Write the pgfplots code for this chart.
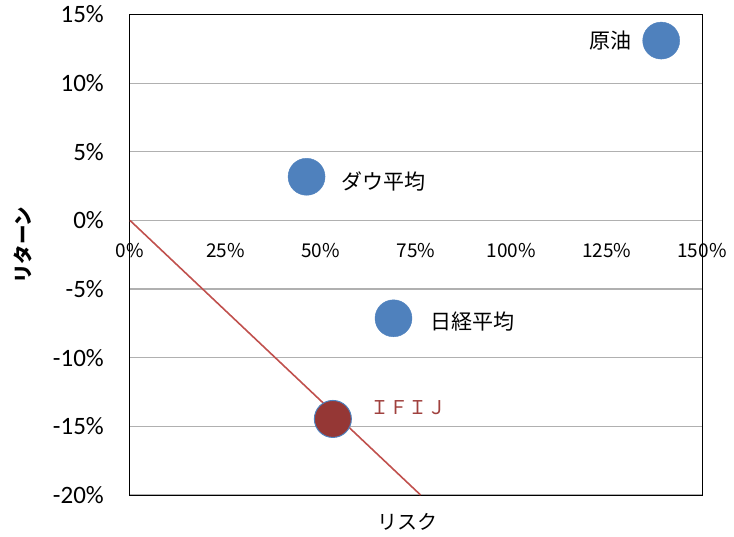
\documentclass[border=0pt]{standalone}
\usepackage{pgfplots}
\pgfplotsset{compat=1.18}
\usepackage{fontspec}
\setmainfont{Noto Sans CJK JP}
\newfontfamily\calfont{Carlito}
\definecolor{ptblue}{HTML}{4F81BD}
\definecolor{ptred}{HTML}{953735}
\definecolor{lnred}{HTML}{C0504D}
\definecolor{lblred}{HTML}{A0413E}
\definecolor{gridgray}{HTML}{B0B0B0}

\begin{document}
\begin{tikzpicture}
\useasboundingbox (-130pt,-41pt) rectangle (604pt,495pt);
\begin{axis}[
  at={(0,0)}, anchor=south west,
  scale only axis, width=572pt, height=480.5pt,
  xmin=0, xmax=150, ymin=-20, ymax=15,
  xtick={0,25,...,150}, ytick={-20,-15,...,15},
  major tick length=0pt,
  ymajorgrids, grid style={gridgray, line width=1.2pt},
  axis line style={black, line width=1pt},
  xticklabel={\pgfmathparse{int(\tick)}\pgfmathresult\%},
  yticklabel={\calfont\pgfmathparse{int(\tick)}\pgfmathresult\%},
  xticklabel style={anchor=center, inner sep=0pt, yshift=244.6pt,
    font=\fontsize{19pt}{24pt}\selectfont},
  yticklabel style={anchor=east, inner sep=0pt, xshift=-26pt,
    font=\fontsize{25pt}{28pt}\selectfont},
  ylabel={リターン},
  ylabel style={at={(axis description cs:-0.187,0.52)}, anchor=center,
    font=\bfseries\fontsize{19.5pt}{22pt}\selectfont},
  xlabel={リスク},
  xlabel style={at={(axis description cs:0.486,-0.0556)}, anchor=center,
    font=\fontsize{20pt}{22pt}\selectfont},
  clip=false,
]
% 原油
\addplot[only marks, mark=*, mark size=18.5pt, mark options={fill=ptblue, draw=ptblue},
  nodes near coords={原油},
  every node near coord/.append style={anchor=east, inner sep=0pt, xshift=-29pt,
    text=black, font=\fontsize{21pt}{24pt}\selectfont}]
  coordinates {(139.3,13.1)};
% ダウ平均
\addplot[only marks, mark=*, mark size=18.5pt, mark options={fill=ptblue, draw=ptblue},
  nodes near coords={ダウ平均},
  every node near coord/.append style={anchor=west, inner sep=0pt, xshift=35pt, yshift=-5pt,
    text=black, font=\fontsize{21pt}{24pt}\selectfont}]
  coordinates {(46.3,3.18)};
% 日経平均
\addplot[only marks, mark=*, mark size=18.5pt, mark options={fill=ptblue, draw=ptblue},
  nodes near coords={日経平均},
  every node near coord/.append style={anchor=west, inner sep=0pt, xshift=37pt, yshift=-3pt,
    text=black, font=\fontsize{21pt}{24pt}\selectfont}]
  coordinates {(69.1,-7.13)};
% IFIJ
\addplot[only marks, mark=*, mark size=18.5pt, mark options={fill=ptred, draw=ptblue, line width=1pt},
  nodes near coords={ＩＦＩＪ},
  every node near coord/.append style={anchor=west, inner sep=0pt, xshift=37pt, yshift=11pt,
    text=lblred, font=\fontsize{19pt}{24pt}\selectfont}]
  coordinates {(53.2,-14.46)};
% line
\addplot[lnred, line width=1.6pt, no marks] coordinates {(0,0) (76.2,-20)};
\end{axis}
\end{tikzpicture}
\end{document}
